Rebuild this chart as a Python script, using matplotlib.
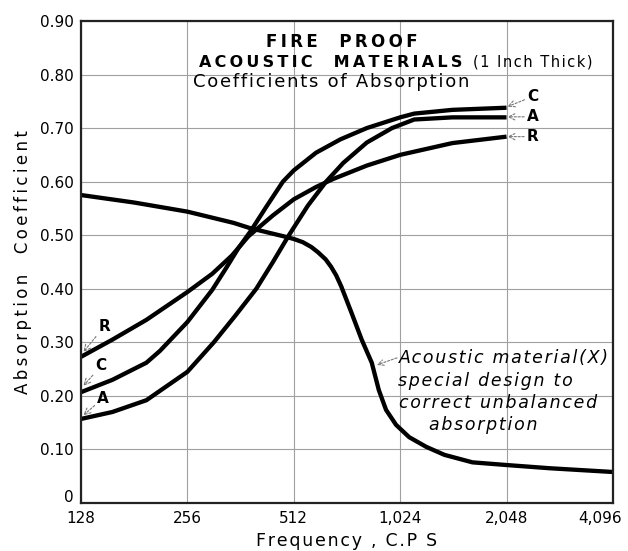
"""Fire proof acoustic materials: absorption coefficient vs frequency."""

import matplotlib.pyplot as plt
from matplotlib.ticker import FixedLocator, NullLocator
from matplotlib.transforms import ScaledTranslation

# Frequency ticks (octaves) and labels
freq_ticks = [128, 256, 512, 1024, 2048, 4096]
freq_tick_labels = ["128", "256", "512", "1,024", "2,048", "4,096"]
coef_ticks = [0.0, 0.1, 0.2, 0.3, 0.4, 0.5, 0.6, 0.7, 0.8, 0.9]
coef_tick_labels = ["0", "0.10", "0.20", "0.30", "0.40", "0.50", "0.60", "0.70", "0.80", "0.90"]

# Curve R
r_freq = [128, 157, 196, 256, 301, 342, 381, 447, 512, 592, 662, 824, 1024, 1439, 2048]
r_coef = [0.273, 0.305, 0.342, 0.394, 0.428, 0.462, 0.498, 0.537, 0.567, 0.590, 0.605, 0.630, 0.650, 0.672, 0.684]

# Curve C
c_freq = [128, 157, 196, 214, 256, 301, 329, 357, 386, 428, 477, 512, 592, 694, 824, 1024, 1122, 1439, 2048]
c_coef = [0.207, 0.230, 0.262, 0.284, 0.338, 0.398, 0.438, 0.476, 0.507, 0.553, 0.600, 0.621, 0.654, 0.679,
          0.700, 0.720, 0.727, 0.734, 0.738]

# Curve A
a_freq = [128, 157, 196, 256, 304, 350, 401, 447, 496, 561, 632, 707, 824, 971, 1122, 1439, 2048]
a_coef = [0.157, 0.170, 0.192, 0.245, 0.300, 0.350, 0.400, 0.450, 0.500, 0.555, 0.600, 0.635, 0.673, 0.700,
          0.716, 0.720, 0.720]

# Curve X (special design)
x_freq = [128, 181, 256, 346, 386, 486, 512, 543, 574, 600, 630, 653, 675, 698, 746, 797, 851, 891, 934, 997,
          1086, 1213, 1366, 1640, 2048, 2713, 4096]
x_coef = [0.575, 0.561, 0.544, 0.523, 0.513, 0.497, 0.493, 0.487, 0.478, 0.468, 0.455, 0.441, 0.425, 0.404,
          0.355, 0.305, 0.262, 0.211, 0.174, 0.146, 0.123, 0.105, 0.090, 0.076, 0.071, 0.065, 0.058]

note_lines = ["Acoustic material(X)", "special design to", "correct unbalanced", "absorption"]


def spaced(text, sep="\u2009"):
    return sep.join(text)


fig = plt.figure(figsize=(6.28, 5.51), dpi=100)
ax = fig.add_axes([0.129, 0.087, 0.847, 0.875])

ax.set_xscale("log", base=2)
ax.set_xlim(128, 4096)
ax.set_ylim(0, 0.90)

ax.xaxis.set_major_locator(FixedLocator(freq_ticks))
ax.xaxis.set_minor_locator(NullLocator())
ax.set_xticklabels(freq_tick_labels)
ax.set_yticks(coef_ticks)
ax.set_yticklabels(coef_tick_labels)
ax.tick_params(length=0, labelsize=11, pad=5)
ax.tick_params(axis="x", pad=6)
ax.grid(True, color="#a0a0a0", linewidth=0.8)
ax.set_axisbelow(True)
for spine in ax.spines.values():
    spine.set_linewidth(1.6)
    spine.set_color("#222222")

# nudge the "0" and "4,096" labels like the hand-lettered original
ax.get_yticklabels()[0].set_transform(
    ax.get_yticklabels()[0].get_transform() + ScaledTranslation(0, 5 / 72, fig.dpi_scale_trans))
ax.get_xticklabels()[-1].set_transform(
    ax.get_xticklabels()[-1].get_transform() + ScaledTranslation(-9 / 72, 0, fig.dpi_scale_trans))

line_style = dict(color="black", linewidth=3.1, solid_capstyle="butt", solid_joinstyle="round")
ax.plot(r_freq, r_coef, **line_style)
ax.plot(c_freq, c_coef, **line_style)
ax.plot(a_freq, a_coef, **line_style)
ax.plot(x_freq, x_coef, **line_style)

ax.set_xlabel(spaced("Frequency , C.P S", "\u200a"), fontsize=12.5, labelpad=4)
ax.set_ylabel(spaced("Absorption  Coefficient", "\u2009"), fontsize=12, labelpad=6)

# Title block
ax.text(0.491, 0.956, spaced("FIRE  PROOF"), transform=ax.transAxes, ha="center", va="center",
        fontsize=12, fontweight="bold")
ax.text(0.222, 0.913, spaced("ACOUSTIC  MATERIALS"), transform=ax.transAxes,
        ha="left", va="center", fontsize=11.5, fontweight="bold")
ax.text(0.737, 0.915, spaced("(1 Inch Thick)", "\u200a"), transform=ax.transAxes, ha="left", va="center",
        fontsize=10.5)
ax.text(0.2105, 0.873, spaced("Coefficients of Absorption", "\u200a"), transform=ax.transAxes,
        ha="left", va="center", fontsize=13)

arrow = dict(arrowstyle="->", color="#777777", linestyle=(0, (2, 1.5)), linewidth=0.8, shrinkA=0, shrinkB=0)

# End labels on the right
ax.annotate("C", xy=(2060, 0.740), xytext=(2430, 0.759), fontsize=11, fontweight="bold",
            ha="center", va="center", arrowprops=arrow)
ax.annotate("A", xy=(2060, 0.721), xytext=(2430, 0.721), fontsize=11, fontweight="bold",
            ha="center", va="center", arrowprops=arrow)
ax.annotate("R", xy=(2060, 0.684), xytext=(2430, 0.684), fontsize=11, fontweight="bold",
            ha="center", va="center", arrowprops=arrow)

# Start labels on the left
ax.annotate("R", xy=(130, 0.282), xytext=(149, 0.330), fontsize=11, fontweight="bold",
            ha="center", va="center", arrowprops=arrow)
ax.annotate("C", xy=(130, 0.219), xytext=(146, 0.256), fontsize=11, fontweight="bold",
            ha="center", va="center", arrowprops=arrow)
ax.annotate("A", xy=(130, 0.164), xytext=(148, 0.196), fontsize=11, fontweight="bold",
            ha="center", va="center", arrowprops=arrow)

# Note for curve X
note_x = [0.795, 0.760, 0.784, 0.756]
note_y = [0.300, 0.253, 0.207, 0.162]
for text, tx, ty in zip(note_lines, note_x, note_y):
    ax.text(tx, ty, spaced(text, "\u200a"), transform=ax.transAxes, ha="center", va="center",
            fontsize=12.5, style="italic")
ax.annotate("", xy=(880, 0.258), xytext=(1003, 0.271), arrowprops=arrow)

fig.savefig("out.png", dpi=100)
